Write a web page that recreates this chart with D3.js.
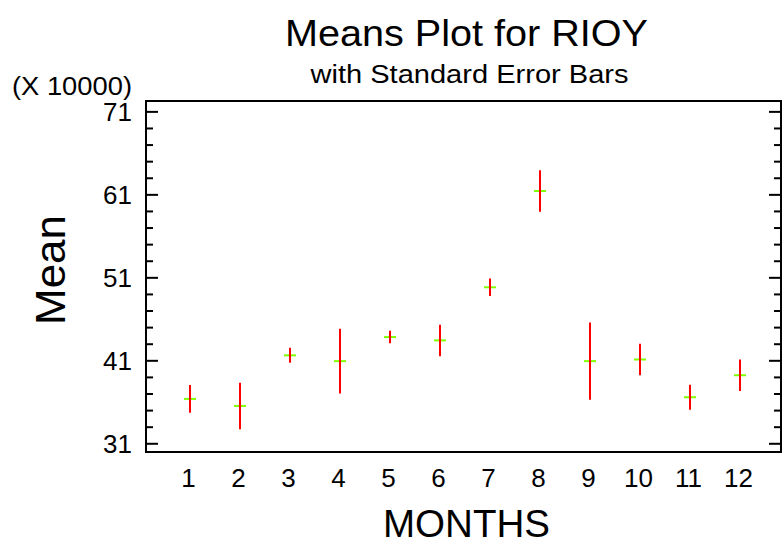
<!DOCTYPE html>
<html>
<head>
<meta charset="utf-8">
<script src="https://cdn.jsdelivr.net/npm/d3@7"></script>
<style>
  body { margin: 0; background: #fff; }
  text { font-family: "Liberation Sans", Arial, sans-serif; fill: #000; }
</style>
</head>
<body>
<div id="chart"></div>
<script>
// values are in units of 10000
const months = [1, 2, 3, 4, 5, 6, 7, 8, 9, 10, 11, 12];
const means = [36.35, 35.5, 41.6, 40.9, 43.8, 43.4, 49.8, 61.4, 40.9, 41.1, 36.55, 39.2];
const stdErr = [1.68, 2.8, 0.9, 3.9, 0.75, 1.9, 1.05, 2.5, 4.65, 1.9, 1.5, 1.9];
const yMajor = [31, 41, 51, 61, 71];
const yMinor = d3.range(31, 72, 2);

const width = 783, height = 544;
const box = {left: 146, right: 781, top: 101, bottom: 452};

const svg = d3.select("#chart")
	.append("svg")
	.attr("width", width)
	.attr("height", height);

const xScale = d3.scaleLinear()
	.domain([0.12, 12.82])
	.range([box.left, box.right]);

const yScale = d3.scaleLinear()
	.domain([29.95, 72.25])
	.range([box.bottom, box.top]);

// frame
svg.append("rect")
	.attr("x", box.left)
	.attr("y", box.top)
	.attr("width", box.right - box.left)
	.attr("height", box.bottom - box.top)
	.attr("fill", "none")
	.attr("stroke", "#000")
	.attr("stroke-width", 2);

// left ticks
const gl = svg.append("g")
	.attr("transform", "translate(" + box.left + ",0)")
	.call(d3.axisRight(yScale).tickValues(yMinor).tickSize(0).tickFormat(""));
gl.select(".domain").remove();
gl.selectAll(".tick line")
	.attr("stroke", "#000")
	.attr("stroke-width", 2)
	.attr("x2", (d) => yMajor.includes(d) ? 12 : 7);

// right ticks
const gr = svg.append("g")
	.attr("transform", "translate(" + box.right + ",0)")
	.call(d3.axisLeft(yScale).tickValues(yMinor).tickSize(0).tickFormat(""));
gr.select(".domain").remove();
gr.selectAll(".tick line")
	.attr("stroke", "#000")
	.attr("stroke-width", 2)
	.attr("x2", (d) => yMajor.includes(d) ? -12 : -7);

svg.append("g").selectAll("text")
	.data(yMajor)
	.enter().append("text")
	.attr("x", 132)
	.attr("y", (d) => yScale(d) + 10)
	.attr("text-anchor", "end")
	.attr("font-size", 26)
	.text((d) => d);

// x labels
svg.append("g").selectAll("text")
	.data(months)
	.enter().append("text")
	.attr("x", (d) => xScale(d) - 1.5)
	.attr("y", 487)
	.attr("text-anchor", "middle")
	.attr("font-size", 26)
	.text((d) => d);

// means and error bars
const data = months.map((m, i) => ({month: m, mean: means[i], se: stdErr[i]}));

svg.append("g").selectAll("line")
	.data(data)
	.enter().append("line")
	.attr("x1", (d) => xScale(d.month) - 6)
	.attr("x2", (d) => xScale(d.month) + 6)
	.attr("y1", (d) => yScale(d.mean))
	.attr("y2", (d) => yScale(d.mean))
	.attr("stroke", "#7fff00")
	.attr("stroke-width", 2);

svg.append("g").selectAll("line")
	.data(data)
	.enter().append("line")
	.attr("x1", (d) => xScale(d.month))
	.attr("x2", (d) => xScale(d.month))
	.attr("y1", (d) => yScale(d.mean + d.se))
	.attr("y2", (d) => yScale(d.mean - d.se))
	.attr("stroke", "#ff0000")
	.attr("stroke-width", 2);

// titles
svg.append("text")
	.attr("x", 466.5).attr("y", 46)
	.attr("text-anchor", "middle")
	.attr("font-size", 37)
	.attr("textLength", 363)
	.attr("lengthAdjust", "spacingAndGlyphs")
	.text("Means Plot for RIOY");

svg.append("text")
	.attr("x", 469.5).attr("y", 83)
	.attr("text-anchor", "middle")
	.attr("font-size", 25)
	.attr("textLength", 318)
	.attr("lengthAdjust", "spacingAndGlyphs")
	.text("with Standard Error Bars");

svg.append("text")
	.attr("x", 12).attr("y", 95)
	.attr("font-size", 26)
	.attr("textLength", 120)
	.attr("lengthAdjust", "spacingAndGlyphs")
	.text("(X 10000)");

svg.append("text")
	.attr("transform", "translate(65,270) rotate(-90)")
	.attr("text-anchor", "middle")
	.attr("font-size", 43)
	.attr("textLength", 110)
	.attr("lengthAdjust", "spacingAndGlyphs")
	.text("Mean");

svg.append("text")
	.attr("x", 466.5).attr("y", 537)
	.attr("text-anchor", "middle")
	.attr("font-size", 39)
	.attr("textLength", 167)
	.attr("lengthAdjust", "spacingAndGlyphs")
	.text("MONTHS");
</script>
</body>
</html>
